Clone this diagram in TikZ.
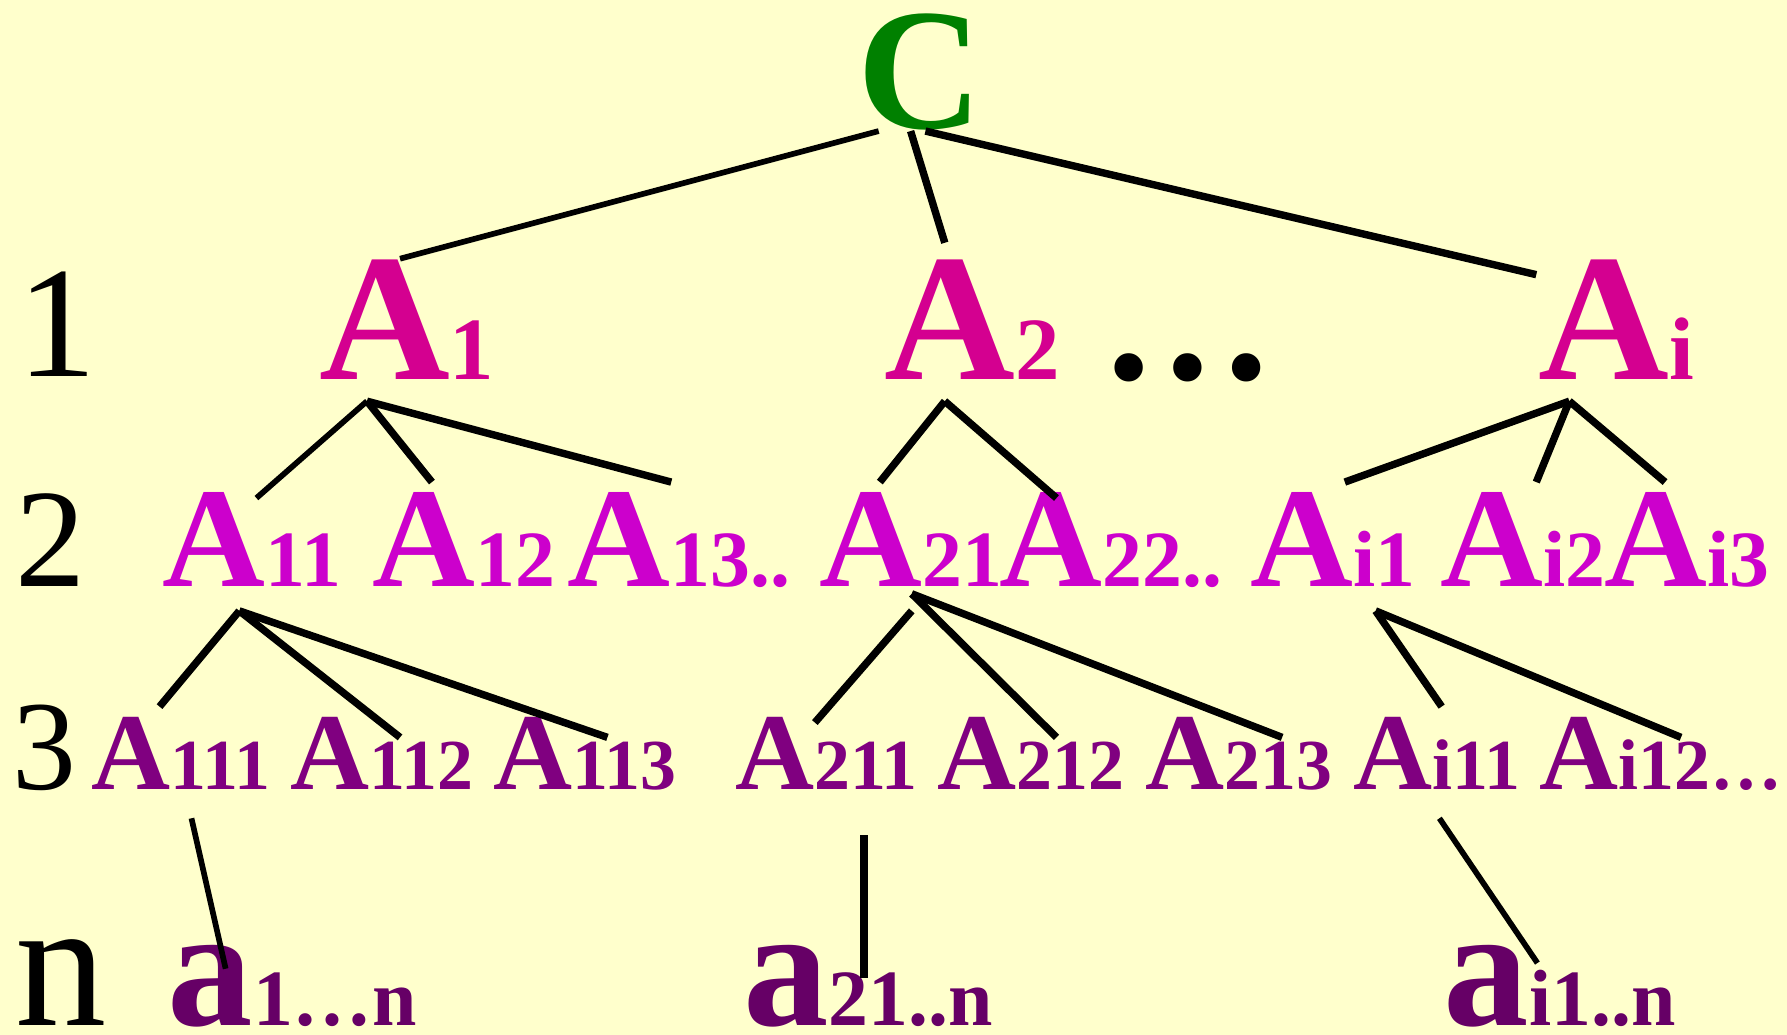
\documentclass[tikz,border=0pt]{standalone}
\usepackage{fontspec}
\setmainfont{Liberation Serif}
\definecolor{bgc}{RGB}{255,255,204}
\definecolor{cgreen}{RGB}{0,128,0}
\definecolor{cone}{RGB}{212,0,144}
\definecolor{ctwo}{RGB}{204,0,204}
\definecolor{cthree}{RGB}{128,0,128}
\definecolor{cfour}{RGB}{102,0,102}
\newcommand\rowone[1]{{\fontsize{159pt}{159pt}\selectfont A}{\fontsize{78pt}{78pt}\selectfont #1}}
\newcommand\rowtwo[1]{{\fontsize{125pt}{125pt}\selectfont A}{\fontsize{70pt}{70pt}\selectfont #1}}
\newcommand\rowthree[1]{{\fontsize{96pt}{96pt}\selectfont A}{\fontsize{63pt}{63pt}\selectfont #1}}
\newcommand\rowfour[1]{{\fontsize{150pt}{150pt}\selectfont a}{\fontsize{70pt}{70pt}\selectfont #1}}
\begin{document}
\begin{tikzpicture}[x=1pt,y=-1pt,
  every node/.style={inner sep=0pt,outer sep=0pt,anchor=base west},
  lvl/.style={font=\fontsize{#1}{#1}\selectfont, text=black},
  rA/.style={font=\bfseries, text=cone},
  rB/.style={font=\bfseries, text=ctwo},
  rC/.style={font=\bfseries, text=cthree},
  rD/.style={font=\bfseries, text=cfour},
  link/.style={line width=6.5pt, black},
  thin link/.style={line width=5pt, black}]
\fill[bgc] (0,0) rectangle (1568,908);
\useasboundingbox (0,0) rectangle (1568,908);

% level labels
\node[lvl=139pt] (L1) at (15,330) {1};
\node[lvl=123pt] (L2) at (14,515) {2};
\node[lvl=112pt] (L3) at (11,693) {3};
\node[lvl=160pt] (Ln) at (14,900) {n};

% root
\node[font=\bfseries\fontsize{152pt}{152pt}\selectfont, text=cgreen] (C) at (752,113) {C};

% row 1
\node[rA] (A1) at (280,333) {\rowone{1}};
\node[rA] (A2) at (776,333) {\rowone{2}};
\node[font=\bfseries\fontsize{153pt}{153pt}\selectfont, text=black] (dots) at (966,333) {…};
\node[rA] (Ai) at (1350,333) {\rowone{i}};

% row 2
\node[rB] (A11) at (143,515) {\rowtwo{11}};
\node[rB] (A12) at (327,515) {\rowtwo{12}};
\node[rB] (A13) at (498,515) {\rowtwo{13..}};
\node[rB] (A21) at (719,515) {\rowtwo{21}};
\node[rB] (A22) at (877,515) {\rowtwo{22..}};
\node[rB] (Ai1) at (1097,515) {\rowtwo{i1}};
\node[rB] (Ai2) at (1264,515) {\rowtwo{i2}};
\node[rB] (Ai3) at (1408,515) {\rowtwo{i3}};

% row 3
\node[rC] (A111) at (80,693) {\rowthree{111}};
\node[rC] (A112) at (255,693) {\rowthree{112}};
\node[rC] (A113) at (433,693) {\rowthree{113}};
\node[rC] (A211) at (645,693) {\rowthree{211}};
\node[rC] (A212) at (823,693) {\rowthree{212}};
\node[rC] (A213) at (1005,693) {\rowthree{213}};
\node[rC] (Ai11) at (1188,693) {\rowthree{i11}};
\node[rC] (Ai12) at (1351,693) {\rowthree{i12…}};

% row n
\node[rD] (a1) at (147,900) {\rowfour{1…n}};
\node[rD] (a21) at (652,900) {\rowfour{21..n}};
\node[rD] (ai1) at (1267,900) {\rowfour{i1..n}};

% connector end points
\coordinate (C-l) at (771,115);
\coordinate (C-m) at (799,115);
\coordinate (C-r) at (812,115);
\coordinate (A1-t) at (351,227);
\coordinate (A2-t) at (829,213);
\coordinate (Ai-t) at (1348,241);
\coordinate (A1-b) at (322,352);
\coordinate (A2-b) at (829,352);
\coordinate (Ai-b) at (1377,352);
\coordinate (A11-t) at (225,437);
\coordinate (A12-t) at (379,423);
\coordinate (A13-t) at (589,423);
\coordinate (A21-t) at (772,423);
\coordinate (A22-t) at (927,437);
\coordinate (Ai1-t) at (1180,423);
\coordinate (Ai2-t) at (1348,423);
\coordinate (Ai3-t) at (1461,423);
\coordinate (A11-b) at (210,536);
\coordinate (A21-b) at (800,521);
\coordinate (A21-c) at (800,536);
\coordinate (Ai1-b) at (1207,536);
\coordinate (A111-t) at (140,620);
\coordinate (A112-t) at (351,647);
\coordinate (A113-t) at (533,647);
\coordinate (A211-t) at (715,634);
\coordinate (A212-t) at (927,647);
\coordinate (A213-t) at (1125,647);
\coordinate (Ai11-t) at (1265,620);
\coordinate (Ai12-t) at (1475,647);
\coordinate (A111-b) at (168,718);
\coordinate (A211-b) at (758,733);
\coordinate (Ai11-b) at (1263,718);
\coordinate (a1-t) at (198,850);
\coordinate (a21-t) at (758,858);
\coordinate (ai1-t) at (1349,845);

% connectors
\draw[thin link] (C-l) -- (A1-t);
\draw[link] (C-m) -- (A2-t);
\draw[link] (C-r) -- (Ai-t);
\draw[thin link] (A1-b) -- (A11-t);
\draw[link] (A1-b) -- (A12-t);
\draw[link] (A1-b) -- (A13-t);
\draw[link] (A2-b) -- (A21-t);
\draw[link] (A2-b) -- (A22-t);
\draw[link] (Ai-b) -- (Ai1-t);
\draw[link] (Ai-b) -- (Ai2-t);
\draw[link] (Ai-b) -- (Ai3-t);
\draw[link] (A11-b) -- (A111-t);
\draw[link] (A11-b) -- (A112-t);
\draw[link] (A11-b) -- (A113-t);
\draw[link] (A21-c) -- (A211-t);
\draw[link] (A21-b) -- (A212-t);
\draw[link] (A21-b) -- (A213-t);
\draw[link] (Ai1-b) -- (Ai11-t);
\draw[link] (Ai1-b) -- (Ai12-t);
\draw[thin link] (A111-b) -- (a1-t);
\draw[link] (A211-b) -- (a21-t);
\draw[thin link] (Ai11-b) -- (ai1-t);
\end{tikzpicture}
\end{document}
